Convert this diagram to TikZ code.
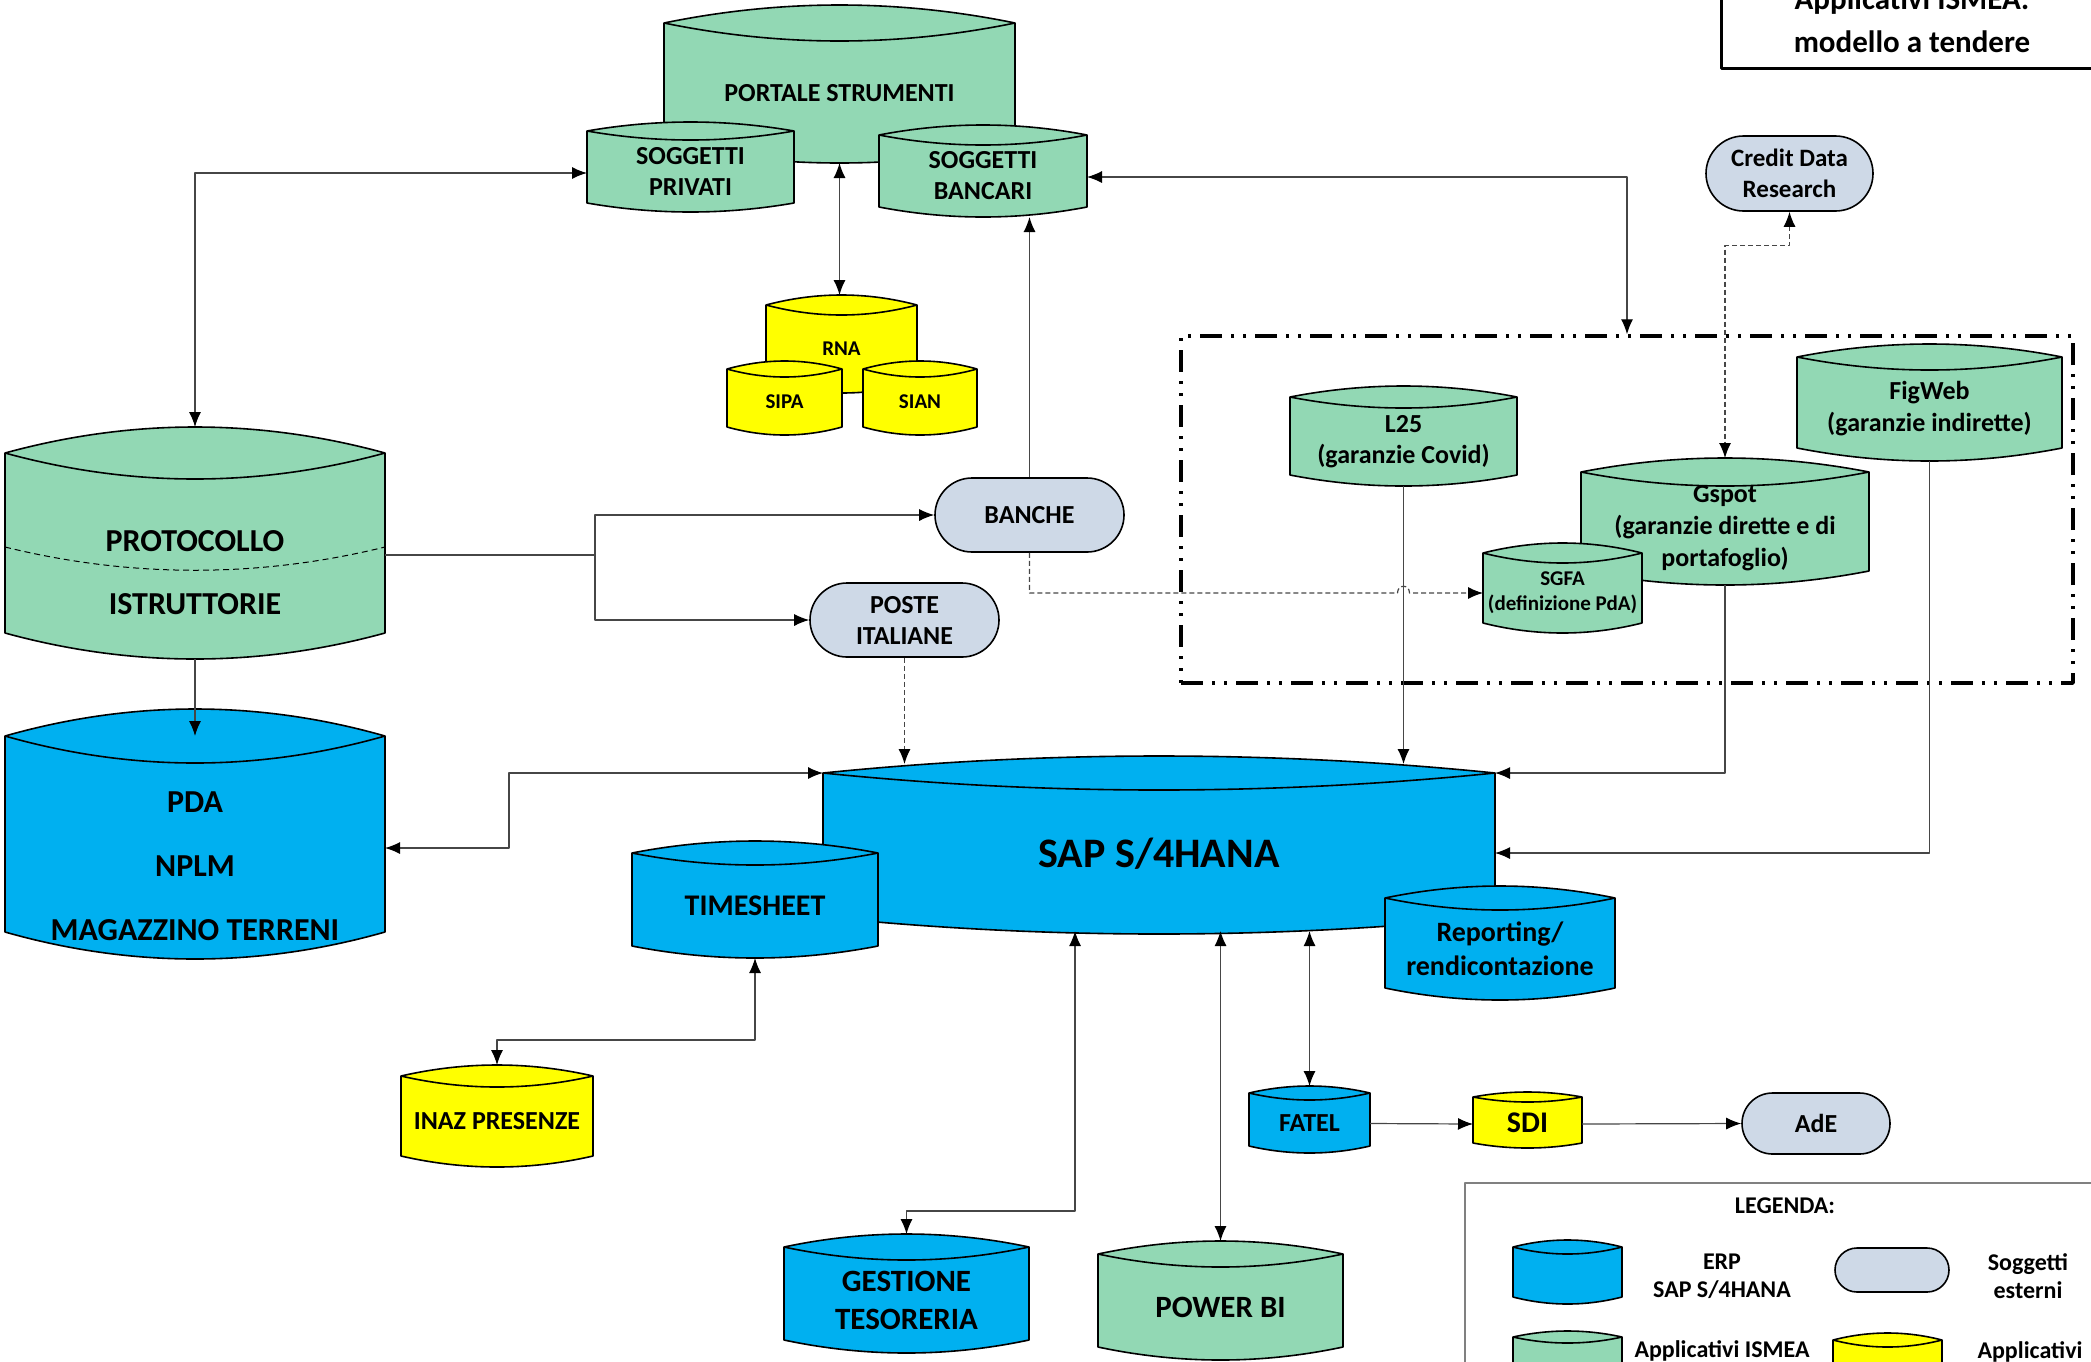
\documentclass[tikz,border=0pt]{standalone}
\usepackage{fontspec}
\setmainfont{Carlito}
\usepackage{tikz}
\usetikzlibrary{arrows.meta,shapes.misc}

\definecolor{appgreen}{RGB}{146,216,180}
\definecolor{erpblue}{RGB}{0,176,240}
\definecolor{extyellow}{RGB}{255,255,0}
\definecolor{extgray}{RGB}{206,217,231}
\definecolor{linkgray}{RGB}{70,70,70}

\newcommand{\fsz}[2]{\fontsize{#1}{#2}\selectfont\bfseries}
% cylinder: [text opts]{name}{fill}{left}{right}{top}{bottom}{bulge}{text}
\newcommand{\dbcyl}[9][]{%
  \filldraw[fill=#3,line width=1.6pt]
    (#4,#6) .. controls ({#4+(#5-#4)/3},{#6-4*#8/3}) and ({#4+2*(#5-#4)/3},{#6-4*#8/3}) .. (#5,#6)
    -- (#5,#7) .. controls ({#4+2*(#5-#4)/3},{#7+4*#8/3}) and ({#4+(#5-#4)/3},{#7+4*#8/3}) .. (#4,#7) -- cycle;
  \draw[line width=1.6pt] (#4,#6) .. controls ({#4+(#5-#4)/3},{#6+4*#8/3}) and ({#4+2*(#5-#4)/3},{#6+4*#8/3}) .. (#5,#6);
  \node[dbbox,minimum width={(#5-#4)*1pt},minimum height={(#7-#6)*1pt}] (#2) at ({(#4+#5)/2},{(#6+#7)/2}) {};
  \coordinate (#2-t) at ({(#4+#5)/2},{#6-#8});
  \coordinate (#2-b) at ({(#4+#5)/2},{#7+#8});
  \node[dbtext,#1] (#2-txt) at ({(#4+#5)/2},{(#6+#7)/2+#8/2}) {#9};
}

\begin{document}
\begin{tikzpicture}[x=1pt,y=-1pt,line join=round,
  >={Latex[length=15pt,width=12pt,color=black]},
  link/.style={draw=linkgray,line width=1.2pt},
  dotlink/.style={link,dash pattern=on 5pt off 3pt},
  dbbox/.style={inner sep=0pt,outer sep=0pt},
  dbtext/.style={align=center,inner sep=0pt},
  extnode/.style={rounded rectangle,draw,fill=extgray,line width=1.6pt,inner sep=0pt,align=center,font=\fsz{26}{31}}]
\useasboundingbox (0,0) rectangle (2091,1361);
\clip (0,0) rectangle (2091,1361);

% title
\draw[line width=3pt] (1721,-20) rectangle (2110,68);
\node[anchor=base,font=\fsz{31}{38}] (title1) at (1912,9) {Applicativi ISMEA:};
\node[anchor=base,font=\fsz{31}{38}] (title2) at (1912,52) {modello a tendere};

% portale
\dbcyl[font=\fsz{26}{31}]{portale}{appgreen}{664}{1015}{23}{145}{18}{PORTALE STRUMENTI}
\dbcyl[font=\fsz{26}{31}]{privati}{appgreen}{587}{794}{131}{203}{9}{SOGGETTI\\PRIVATI}
\dbcyl[font=\fsz{26}{31}]{bancari}{appgreen}{879}{1087}{135}{207}{10}{SOGGETTI\\BANCARI}
\dbcyl[font=\fsz{21}{25}]{rna}{extyellow}{766}{917}{305}{383}{10}{RNA}
\dbcyl[font=\fsz{21}{25}]{sipa}{extyellow}{727}{842}{369}{427}{8}{SIPA}
\dbcyl[font=\fsz{21}{25}]{sian}{extyellow}{863}{977}{369}{427}{8}{SIAN}

% left column
\dbcyl[font=\fsz{32}{63},yshift=-17pt]{protocollo}{appgreen}{5}{385}{453}{633}{26}{PROTOCOLLO\\ISTRUTTORIE}
\draw[line width=1pt,dash pattern=on 6pt off 4pt] (5,547) .. controls (131,578) and (259,578) .. (385,547);
\dbcyl[font=\fsz{32}{64},yshift=-19pt]{pda}{erpblue}{5}{385}{736}{932}{27}{PDA\\NPLM\\MAGAZZINO TERRENI}

% erp
\dbcyl[font=\fsz{42}{50}]{sap}{erpblue}{823}{1495}{773}{917}{17}{SAP S/4HANA}
\dbcyl[font=\fsz{30}{36}]{timesheet}{erpblue}{632}{878}{853}{946}{12}{TIMESHEET}
\dbcyl[font=\fsz{28}{34}]{reporting}{erpblue}{1385}{1615}{898}{988}{12}{Reporting/\\rendicontazione}

% garanzie
\node[draw,line width=3.5pt,dash pattern=on 22pt off 9pt on 3pt off 9pt on 3pt off 9pt,
  minimum width=892pt,minimum height=347pt,inner sep=0pt] (zona) at (1627,509.5) {};
\dbcyl[font=\fsz{26}{31}]{l25}{appgreen}{1290}{1517}{397}{475}{11}{L25\\(garanzie Covid)}
\dbcyl[font=\fsz{26}{32}]{gspot}{appgreen}{1581}{1869}{472}{571}{14}{Gspot\\(garanzie dirette e di\\portafoglio)}
\dbcyl[font=\fsz{26}{32}]{figweb}{appgreen}{1797}{2062}{357}{448}{13}{FigWeb\\(garanzie indirette)}
\dbcyl[font=\fsz{21}{25}]{sgfa}{appgreen}{1483}{1642}{553}{623}{10}{SGFA\\(definizione PdA)}

% soggetti esterni
\node[extnode,minimum width=167pt,minimum height=75pt,font=\fsz{25}{31}] (credit) at (1789.5,173.5) {Credit Data\\Research};
\node[extnode,minimum width=189pt,minimum height=74pt] (banche) at (1029.5,515) {BANCHE};
\node[extnode,minimum width=189pt,minimum height=74pt] (poste) at (904.5,620) {POSTE\\ITALIANE};

% bottom
\dbcyl[font=\fsz{26}{31}]{inaz}{extyellow}{401}{593}{1076}{1156}{11}{INAZ PRESENZE}
\dbcyl[font=\fsz{26}{31}]{fatel}{erpblue}{1249}{1370}{1093}{1146}{7}{FATEL}
\dbcyl[font=\fsz{30}{36}]{sdi}{extyellow}{1473}{1582}{1097}{1143}{5}{SDI}
\node[extnode,minimum width=148pt,minimum height=61pt] (ade) at (1816,1123.5) {AdE};
\dbcyl[font=\fsz{31}{38}]{gestione}{erpblue}{784}{1029}{1247}{1340}{13}{GESTIONE\\TESORERIA}
\dbcyl[font=\fsz{31}{38}]{powerbi}{appgreen}{1098}{1343}{1254}{1347}{13}{POWER BI}

% legenda
\draw[draw=gray,line width=1.5pt] (1465,1183) rectangle (2120,1420);
\node[font=\fsz{24}{28}] (legenda) at (1785,1206) {LEGENDA:};
\dbcyl{legerp}{erpblue}{1513}{1622}{1247}{1297}{7}{}
\node[font=\fsz{24}{28},align=center] (legerptxt) at (1722,1276) {ERP\\SAP S/4HANA};
\node[extnode,minimum width=114pt,minimum height=44pt] (legext) at (1892,1270) {};
\node[font=\fsz{24}{28},align=center] (legexttxt) at (2028,1276) {Soggetti\\esterni};
\dbcyl{legismea}{appgreen}{1513}{1622}{1337}{1400}{6}{}
\node[font=\fsz{24}{28}] (legismeatxt) at (1722,1351) {Applicativi ISMEA};
\dbcyl{legyel}{extyellow}{1833}{1942}{1340}{1400}{7}{}
\node[font=\fsz{24}{28}] (legyeltxt) at (2030,1352) {Applicativi};

% connectors
\coordinate (split) at (595,555);
\coordinate (saptop) at ([yshift=9pt]sap.north);
\coordinate (sapbase) at ([yshift=-14pt]sap.south);
\coordinate (sgfain) at ([yshift=-5pt]sgfa.west);
\coordinate (hop) at (sgfain -| l25-b);

\draw[link,<->] ([yshift=-6pt]privati.west) -| (protocollo-t);
\draw[link,<->] ([yshift=-6pt]bancari.east) -| (zona.north);
\draw[link,<->] (portale-b) -- (portale-b |- rna-t);
\draw[link,->] (banche.north) -- (banche.north |- bancari-b);
\draw[link] (protocollo.east |- split) -- (split);
\draw[link,->] (split) |- (banche.west);
\draw[link,->] (split) |- (poste.west);
\draw[link,->] (protocollo-b) -- (pda.north);
\draw[link,<->] ([yshift=-14pt]pda.east) -- ++(124,0) |- (sap.north west);
\draw[dotlink,->] (poste.south) -- (poste.south |- saptop);
\draw[link,->] (l25-b) -- (l25-b |- saptop);
\draw[link,->] (gspot-b) |- (sap.north east);
\draw[link,->] (figweb-b) |- ([yshift=-8pt]sap.east);
\draw[dotlink,<->] (credit.south) -- ++(0,34) -| (gspot-t);
\draw[dotlink,->] (banche.south) |- ([xshift=-6pt]hop)
  .. controls ([xshift=-6pt,yshift=9pt]hop) and ([xshift=6pt,yshift=9pt]hop) .. ([xshift=6pt]hop) -- (sgfain);
\draw[link,<->] (timesheet-b) -- ++(0,82) -| (inaz-t);
\draw[link,<->] ([xshift=-84pt]sapbase) -- ++(0,280) -| (gestione-t);
\draw[link,<->] (powerbi-t) -- (powerbi-t |- sapbase);
\draw[link,<->] (fatel-t) -- (fatel-t |- sapbase);
\draw[link,->] ([yshift=-4pt]fatel.east) -- ([yshift=-4pt]sdi.west);
\draw[link,->] ([yshift=-4pt]sdi.east) -- (ade.west);
\end{tikzpicture}
\end{document}
